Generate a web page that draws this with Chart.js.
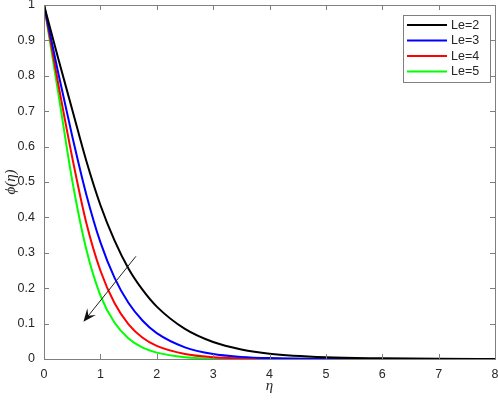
<!DOCTYPE html>
<html>
<head>
<meta charset="utf-8">
<script src="https://cdn.jsdelivr.net/npm/chart.js@4.4.1/dist/chart.umd.min.js"></script>
<style>
  html, body { margin:0; padding:0; background:#fff; }
  #wrap { width:498px; height:401px; }
</style>
</head>
<body>
<div id="wrap"><canvas id="phiChart" width="498" height="401"></canvas></div>
<script>
/* concentration profile phi(eta) for several Lewis numbers */
const eta     = [0, 0.25, 0.5, 0.75, 1, 1.25, 1.5, 1.75, 2, 2.5, 3, 3.5, 4, 5, 6, 7, 8];
const phiLe2  = [1, 0.85, 0.705, 0.56, 0.435, 0.335, 0.255, 0.195, 0.148, 0.085, 0.048, 0.027, 0.015, 0.005, 0.002, 0.0007, 0.0002];
const phiLe3  = [1, 0.81, 0.63, 0.465, 0.33, 0.23, 0.158, 0.108, 0.073, 0.033, 0.014, 0.006, 0.0025, 0.0005, 0.0001, 0, 0];
const phiLe4  = [1, 0.78, 0.57, 0.385, 0.25, 0.158, 0.098, 0.06, 0.037, 0.014, 0.005, 0.002, 0.0007, 0.0001, 0, 0, 0];
const phiLe5  = [1, 0.755, 0.505, 0.31, 0.18, 0.103, 0.058, 0.032, 0.018, 0.005, 0.0015, 0.0004, 0.0001, 0, 0, 0, 0];
const seriesLabels = ['Le=2', 'Le=3', 'Le=4', 'Le=5'];
const seriesColors = ['#000000', '#0000ff', '#ff0000', '#00ff00'];
const xTicks = [0, 1, 2, 3, 4, 5, 6, 7, 8];
const yTicks = [0, 0.1, 0.2, 0.3, 0.4, 0.5, 0.6, 0.7, 0.8, 0.9, 1];
// arrow showing increasing Le, in data units: tail -> head
const arrowTail = [1.63, 0.29];
const arrowHead = [0.70, 0.105];

const axisColor = '#7f7f7f';
const textColor = '#262626';
const tickFont = {family:'"Liberation Sans", Arial, sans-serif', size:12.5};

const toPts = ys => ys.map((y,i)=>({x:eta[i], y}));

const datasets = [phiLe2, phiLe3, phiLe4, phiLe5].map((ys,i)=>({
  label: seriesLabels[i],
  data: toPts(ys),
  borderColor: seriesColors[i],
  backgroundColor: seriesColors[i],
  borderWidth: 2,
  pointRadius: 0,
  cubicInterpolationMode: 'monotone',
  fill: false
}));

/* box, inward ticks, arrow and legend drawn on top */
const decor = {
  id:'decor',
  afterDatasetsDraw(chart){
    const {ctx, chartArea:a, scales:{x, y}} = chart;
    ctx.save();
    ctx.strokeStyle = axisColor;
    ctx.lineWidth = 1;
    ctx.strokeRect(Math.round(a.left)+0.5, Math.round(a.top)+0.5, Math.round(a.right-a.left), Math.round(a.bottom-a.top));
    const tl = 5;
    ctx.beginPath();
    xTicks.forEach(v=>{
      const px = Math.round(x.getPixelForValue(v))+0.5;
      ctx.moveTo(px, a.bottom); ctx.lineTo(px, a.bottom-tl);
      ctx.moveTo(px, a.top); ctx.lineTo(px, a.top+tl);
    });
    yTicks.forEach(v=>{
      const py = Math.round(y.getPixelForValue(v))+0.5;
      ctx.moveTo(a.left, py); ctx.lineTo(a.left+tl, py);
      ctx.moveTo(a.right, py); ctx.lineTo(a.right-tl, py);
    });
    ctx.stroke();

    // arrow
    const x0 = x.getPixelForValue(arrowTail[0]), y0 = y.getPixelForValue(arrowTail[1]);
    const x1 = x.getPixelForValue(arrowHead[0]), y1 = y.getPixelForValue(arrowHead[1]);
    const ang = Math.atan2(y1-y0, x1-x0);
    ctx.strokeStyle = '#222';
    ctx.fillStyle = '#111';
    ctx.lineWidth = 1;
    ctx.beginPath(); ctx.moveTo(x0,y0); ctx.lineTo(x1 - 6*Math.cos(ang), y1 - 6*Math.sin(ang)); ctx.stroke();
    const hl = 13, hw = 5.5;
    const bx = x1 - hl*Math.cos(ang), by = y1 - hl*Math.sin(ang);
    const mx = x1 - 0.6*hl*Math.cos(ang), my = y1 - 0.6*hl*Math.sin(ang);
    ctx.beginPath();
    ctx.moveTo(x1, y1);
    ctx.lineTo(bx + hw*Math.sin(ang), by - hw*Math.cos(ang));
    ctx.lineTo(mx, my);
    ctx.lineTo(bx - hw*Math.sin(ang), by + hw*Math.cos(ang));
    ctx.closePath();
    ctx.fill();

    // legend box, top right
    const lx = 403, ly = 15, lw = 87, lh = 67;
    ctx.fillStyle = '#fff';
    ctx.fillRect(lx, ly, lw, lh);
    ctx.strokeStyle = axisColor;
    ctx.lineWidth = 1;
    ctx.strokeRect(lx+0.5, ly+0.5, lw, lh);
    ctx.font = '12.5px "Liberation Sans", Arial, sans-serif';
    ctx.textBaseline = 'middle';
    chart.data.datasets.forEach((ds,i)=>{
      const ry = 25 + i*15.5;
      ctx.strokeStyle = ds.borderColor;
      ctx.lineWidth = 2;
      ctx.beginPath(); ctx.moveTo(407, ry); ctx.lineTo(447, ry); ctx.stroke();
      ctx.fillStyle = textColor;
      ctx.fillText(ds.label, 451, ry+0.5);
    });
    ctx.restore();
  }
};

new Chart(document.getElementById('phiChart'), {
  type:'line',
  data:{ datasets },
  options:{
    responsive:false,
    animation:false,
    layout:{ padding:{ top:5, right:3, left:0, bottom:0 } },
    plugins:{ legend:{display:false}, tooltip:{enabled:false} },
    scales:{
      x:{
        type:'linear', min:0, max:8,
        afterBuildTicks(s){ s.ticks = xTicks.map(v=>({value:v})); },
        afterFit(s){ s.height = 42; s.paddingLeft = 0; s.paddingRight = 0; },
        grid:{ display:false, drawTicks:false },
        border:{ display:false },
        ticks:{ color:textColor, font:tickFont, padding:8, maxRotation:0 },
        title:{ display:true, text:'η', color:textColor,
                font:{family:'"Liberation Serif", "Times New Roman", serif', size:15, style:'italic'},
                padding:{top:0, bottom:6} }
      },
      y:{
        type:'linear', min:0, max:1,
        afterBuildTicks(s){ s.ticks = yTicks.map(v=>({value:v})); },
        afterFit(s){ s.width = 44; s.paddingTop = 0; s.paddingBottom = 0; },
        grid:{ display:false, drawTicks:false },
        border:{ display:false },
        ticks:{ color:textColor, font:tickFont, padding:9,
                callback:v=>String(+v.toFixed(1)) },
        title:{ display:true, text:'ϕ(η)', color:textColor,
                font:{family:'"Liberation Serif", "Times New Roman", serif', size:15, style:'italic'},
                padding:{top:2, bottom:0} }
      }
    }
  },
  plugins:[decor]
});
</script>
</body>
</html>
